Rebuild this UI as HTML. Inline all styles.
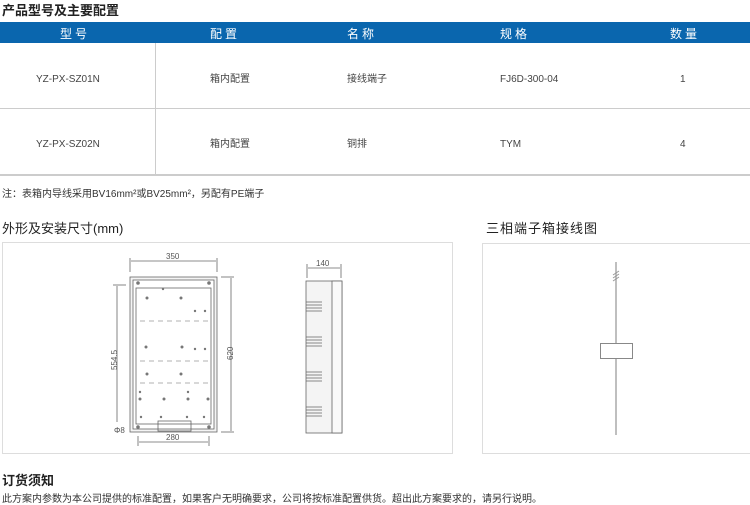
<!DOCTYPE html>
<html><head><meta charset="utf-8"><style>
body{margin:0;width:750px;height:503px;background:#fff;position:relative;overflow:hidden;font-family:"Liberation Sans","Noto Sans CJK SC",sans-serif;color:#333}
.a{position:absolute;white-space:nowrap}
.r{font-size:10px;line-height:12px;color:#444}
</style></head><body>
<div class="a" style="left:2px;top:0px;font-size:13px;font-weight:bold;color:#222">产品型号及主要配置</div>
<div class="a" style="left:0;top:22px;width:750px;height:21px;background:#0a66ae"></div>
<div class="a" style="left:60px;top:25px;font-size:12px;color:#fff;letter-spacing:3px">型号</div>
<div class="a" style="left:210px;top:25px;font-size:12px;color:#fff;letter-spacing:3px">配置</div>
<div class="a" style="left:347px;top:25px;font-size:12px;color:#fff;letter-spacing:3px">名称</div>
<div class="a" style="left:500px;top:25px;font-size:12px;color:#fff;letter-spacing:3px">规格</div>
<div class="a" style="left:670px;top:25px;font-size:12px;color:#fff;letter-spacing:3px">数量</div>
<div class="a" style="left:155px;top:43px;width:1px;height:131px;background:#ccc"></div>
<div class="a" style="left:0;top:108px;width:750px;height:1px;background:#ccc"></div>
<div class="a" style="left:0;top:174px;width:750px;height:2px;background:#ccc"></div>
<div class="a r" style="left:36px;top:74px">YZ-PX-SZ01N</div>
<div class="a r" style="left:210px;top:74px">箱内配置</div>
<div class="a r" style="left:347px;top:74px">接线端子</div>
<div class="a r" style="left:500px;top:74px">FJ6D-300-04</div>
<div class="a r" style="left:680px;top:74px">1</div>
<div class="a r" style="left:36px;top:139px">YZ-PX-SZ02N</div>
<div class="a r" style="left:210px;top:139px">箱内配置</div>
<div class="a r" style="left:347px;top:139px">铜排</div>
<div class="a r" style="left:500px;top:139px">TYM</div>
<div class="a r" style="left:680px;top:139px">4</div>
<div class="a" style="left:2px;top:185px;font-size:10px">注：表箱内导线采用BV16mm²或BV25mm²，另配有PE端子</div>
<div class="a" style="left:2px;top:218px;font-size:13px;color:#222">外形及安装尺寸(mm)</div>
<div class="a" style="left:486px;top:218px;font-size:13px;color:#222;letter-spacing:1px">三相端子箱接线图</div>
<svg class="a" style="left:0;top:0" width="750" height="503">
<rect x="2.5" y="242.5" width="450" height="211" fill="none" stroke="#ddd"/>
<rect x="482.5" y="243.5" width="268" height="210" fill="none" stroke="#ddd"/>
<line x1="616" y1="262" x2="616" y2="435" stroke="#aaa" stroke-width="1.5"/>
<path d="M613 275l6-4M613 278l6-4M613 281l6-4" stroke="#999"/>
<rect x="600.5" y="343.5" width="32" height="15" fill="#fff" stroke="#888"/>
<g stroke="#666" fill="none" stroke-width="0.8">
<rect x="130" y="277" width="87" height="155" fill="#f4f4f4"/>
<rect x="133" y="280" width="81" height="149" fill="#fff"/>
<rect x="136" y="288" width="75" height="136"/>
<line x1="130" y1="258" x2="130" y2="272"/><line x1="217" y1="258" x2="217" y2="272"/>
<line x1="131" y1="261" x2="216" y2="261"/>
<line x1="221" y1="277" x2="234" y2="277"/><line x1="221" y1="432" x2="234" y2="432"/>
<line x1="231" y1="278" x2="231" y2="431"/>
<line x1="113" y1="285" x2="126" y2="285"/>
<line x1="117" y1="286" x2="117" y2="422"/>
<line x1="138" y1="436" x2="138" y2="446"/><line x1="209" y1="436" x2="209" y2="446"/>
<line x1="139" y1="442" x2="208" y2="442"/>
<path d="M140 321h72M140 361h72M140 383h72" stroke-dasharray="5 4" stroke="#999"/>
<rect x="158" y="421" width="33" height="10"/>
<rect x="306" y="281" width="36" height="152" fill="#f4f4f4"/>
<rect x="332" y="281" width="10" height="152" fill="#fafafa"/>
<line x1="307" y1="264" x2="307" y2="278"/><line x1="341" y1="264" x2="341" y2="278"/>
<line x1="308" y1="268" x2="340" y2="268"/>
<path d="M306 302h16M306 305h16M306 308h16M306 311h16M306 337h16M306 340h16M306 343h16M306 346h16M306 372h16M306 375h16M306 378h16M306 381h16M306 407h16M306 410h16M306 413h16M306 416h16"/>
</g>
<g fill="#777">
<circle cx="138" cy="283" r="1.8"/><circle cx="209" cy="283" r="1.8"/><circle cx="138" cy="427" r="1.8"/><circle cx="209" cy="427" r="1.8"/>
<circle cx="163" cy="289" r="1.2"/><circle cx="147" cy="298" r="1.5"/><circle cx="181" cy="298" r="1.5"/><circle cx="195" cy="311" r="1.2"/><circle cx="205" cy="311" r="1.2"/>
<circle cx="146" cy="347" r="1.5"/><circle cx="182" cy="347" r="1.5"/><circle cx="195" cy="349" r="1.2"/><circle cx="205" cy="349" r="1.2"/>
<circle cx="147" cy="374" r="1.5"/><circle cx="181" cy="374" r="1.5"/>
<circle cx="140" cy="392" r="1.2"/><circle cx="140" cy="399" r="1.5"/><circle cx="164" cy="399" r="1.5"/><circle cx="188" cy="399" r="1.5"/><circle cx="188" cy="392" r="1.2"/><circle cx="208" cy="399" r="1.5"/>
<circle cx="141" cy="417" r="1.2"/><circle cx="161" cy="417" r="1.2"/><circle cx="187" cy="417" r="1.2"/><circle cx="204" cy="417" r="1.2"/>
</g>
<g font-size="8" fill="#555" font-family="Liberation Sans">
<text x="166" y="259">350</text>
<text x="316" y="266">140</text>
<text x="166" y="440">280</text>
<text transform="translate(117,370) rotate(-90)">554.5</text>
<text transform="translate(233,360) rotate(-90)">620</text>
<text x="114" y="433">Φ8</text>
</g>
</svg>
<div class="a" style="left:2px;top:470px;font-size:13px;font-weight:bold;color:#222">订货须知</div>
<div class="a" style="left:2px;top:490px;font-size:10px">此方案内参数为本公司提供的标准配置，如果客户无明确要求，公司将按标准配置供货。超出此方案要求的，请另行说明。</div>
</body></html>
